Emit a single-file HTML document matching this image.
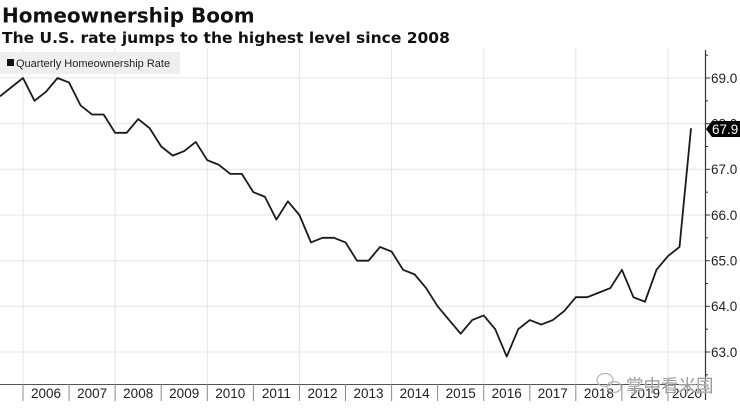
<!DOCTYPE html>
<html><head><meta charset="utf-8">
<style>
html,body{margin:0;padding:0;background:#fff;}
body{width:740px;height:416px;overflow:hidden;position:relative;}
svg{position:absolute;left:0;top:0;}
</style></head>
<body>
<svg width="740" height="416" viewBox="0 0 740 416" xmlns="http://www.w3.org/2000/svg">
<rect x="0" y="0" width="740" height="416" fill="#fff"/>
<text x="2" y="22.6" font-family="DejaVu Sans, sans-serif" font-weight="bold" font-size="20" fill="#111">Homeownership Boom</text>
<text x="2" y="43" font-family="DejaVu Sans, sans-serif" font-weight="bold" font-size="15.5" fill="#111">The U.S. rate jumps to the highest level since 2008</text>
<!-- gridlines -->
<g stroke="#e4e4e4" stroke-width="1">
<line x1="23" y1="48" x2="23" y2="384"/>
<line x1="115.1" y1="48" x2="115.1" y2="384"/>
<line x1="207.3" y1="48" x2="207.3" y2="384"/>
<line x1="299.4" y1="48" x2="299.4" y2="384"/>
<line x1="391.6" y1="48" x2="391.6" y2="384"/>
<line x1="483.7" y1="48" x2="483.7" y2="384"/>
<line x1="575.8" y1="48" x2="575.8" y2="384"/>
<line x1="668" y1="48" x2="668" y2="384"/>
<line x1="0" y1="78" x2="705" y2="78"/>
<line x1="0" y1="123.7" x2="705" y2="123.7"/>
<line x1="0" y1="169.3" x2="705" y2="169.3"/>
<line x1="0" y1="215" x2="705" y2="215"/>
<line x1="0" y1="260.7" x2="705" y2="260.7"/>
<line x1="0" y1="306.3" x2="705" y2="306.3"/>
<line x1="0" y1="352" x2="705" y2="352"/>
</g>
<!-- legend -->
<rect x="0" y="52" width="180" height="22" fill="#efefef"/>
<rect x="7" y="59" width="7" height="7" fill="#111"/>
<text x="16" y="67" font-family="Liberation Sans, sans-serif" font-size="11" fill="#222">Quarterly Homeownership Rate</text>
<!-- series -->
<polyline fill="none" stroke="#1a1a1a" stroke-width="1.8" stroke-linejoin="round" points="0,96.27 11.52,87.13 23,78 34.52,100.83 46.04,91.7 57.55,78 69.07,82.57 80.59,105.4 92.11,114.53 103.62,114.53 115.14,132.8 126.66,132.8 138.18,119.1 149.69,128.23 161.21,146.5 172.73,155.63 184.25,151.07 195.76,141.93 207.28,160.2 218.8,164.77 230.32,173.9 241.83,173.9 253.35,192.17 264.87,196.73 276.39,219.57 287.9,201.3 299.42,215 310.94,242.4 322.46,237.83 333.97,237.83 345.49,242.4 357.01,260.67 368.53,260.67 380.04,246.97 391.56,251.53 403.08,269.8 414.6,274.37 426.11,288.07 437.63,306.33 449.15,320.03 460.67,333.73 472.18,320.03 483.7,315.47 495.22,329.17 506.74,356.57 518.25,329.17 529.77,320.03 541.29,324.6 552.81,320.03 564.32,310.9 575.84,297.2 587.36,297.2 598.88,292.63 610.39,288.07 621.91,269.8 633.43,297.2 644.95,301.77 656.46,269.8 667.98,256.1 679.5,246.97 691.02,128.23"/>
<!-- x axis -->
<line x1="0" y1="384.5" x2="706" y2="384.5" stroke="#555" stroke-width="1"/>
<g stroke="#888" stroke-width="1">
<line x1="23" y1="384" x2="23" y2="401"/>
<line x1="69.1" y1="384" x2="69.1" y2="401"/>
<line x1="115.1" y1="384" x2="115.1" y2="401"/>
<line x1="161.2" y1="384" x2="161.2" y2="401"/>
<line x1="207.3" y1="384" x2="207.3" y2="401"/>
<line x1="253.4" y1="384" x2="253.4" y2="401"/>
<line x1="299.4" y1="384" x2="299.4" y2="401"/>
<line x1="345.5" y1="384" x2="345.5" y2="401"/>
<line x1="391.6" y1="384" x2="391.6" y2="401"/>
<line x1="437.6" y1="384" x2="437.6" y2="401"/>
<line x1="483.7" y1="384" x2="483.7" y2="401"/>
<line x1="529.8" y1="384" x2="529.8" y2="401"/>
<line x1="575.8" y1="384" x2="575.8" y2="401"/>
<line x1="621.9" y1="384" x2="621.9" y2="401"/>
<line x1="668" y1="384" x2="668" y2="401"/>
</g>
<g font-family="Liberation Sans, sans-serif" font-size="13.5" fill="#222" text-anchor="middle">
<text x="46" y="398">2006</text>
<text x="92.1" y="398">2007</text>
<text x="138.2" y="398">2008</text>
<text x="184.2" y="398">2009</text>
<text x="230.3" y="398">2010</text>
<text x="276.4" y="398">2011</text>
<text x="322.5" y="398">2012</text>
<text x="368.5" y="398">2013</text>
<text x="414.6" y="398">2014</text>
<text x="460.7" y="398">2015</text>
<text x="506.7" y="398">2016</text>
<text x="552.8" y="398">2017</text>
<text x="598.9" y="398">2018</text>
<text x="645" y="398">2019</text>
<text x="687" y="398">2020</text>
</g>
<!-- y axis -->
<line x1="705.5" y1="50" x2="705.5" y2="400" stroke="#333" stroke-width="1.2"/>
<g stroke="#333" stroke-width="1">
<line x1="705" y1="78" x2="710" y2="78"/>
<line x1="705" y1="123.7" x2="710" y2="123.7"/>
<line x1="705" y1="169.3" x2="710" y2="169.3"/>
<line x1="705" y1="215" x2="710" y2="215"/>
<line x1="705" y1="260.7" x2="710" y2="260.7"/>
<line x1="705" y1="306.3" x2="710" y2="306.3"/>
<line x1="705" y1="352" x2="710" y2="352"/>
<line x1="705" y1="55.2" x2="708" y2="55.2"/>
<line x1="705" y1="100.8" x2="708" y2="100.8"/>
<line x1="705" y1="146.5" x2="708" y2="146.5"/>
<line x1="705" y1="192.2" x2="708" y2="192.2"/>
<line x1="705" y1="237.8" x2="708" y2="237.8"/>
<line x1="705" y1="283.5" x2="708" y2="283.5"/>
<line x1="705" y1="329.2" x2="708" y2="329.2"/>
<line x1="705" y1="374.8" x2="708" y2="374.8"/>
</g>
<g font-family="Liberation Sans, sans-serif" font-size="13.5" fill="#222">
<text x="711" y="83">69.0</text>
<text x="711" y="128.5">68.0</text>
<text x="711" y="174">67.0</text>
<text x="711" y="220">66.0</text>
<text x="711" y="265.5">65.0</text>
<text x="711" y="311">64.0</text>
<text x="711" y="357">63.0</text>
</g>
<!-- last value tag -->
<polygon points="706,129 712,121 740,121 740,137 712,137" fill="#000"/>
<text x="712" y="134" font-family="Liberation Sans, sans-serif" font-size="13.5" fill="#fff">67.9</text>
<!-- watermark -->
<g fill="none" stroke="#b5b5b5" stroke-width="1.2">
<ellipse cx="605" cy="380" rx="8" ry="6.5"/>
<ellipse cx="614" cy="387" rx="7" ry="5.5"/>
</g>
<text x="626" y="392" font-family="Liberation Sans, 'Noto Sans CJK SC', sans-serif" font-size="17.5" fill="#9a9a9a" stroke="#fff" stroke-width="0.6" paint-order="stroke">掌中看米国</text>
</svg>
</body></html>
